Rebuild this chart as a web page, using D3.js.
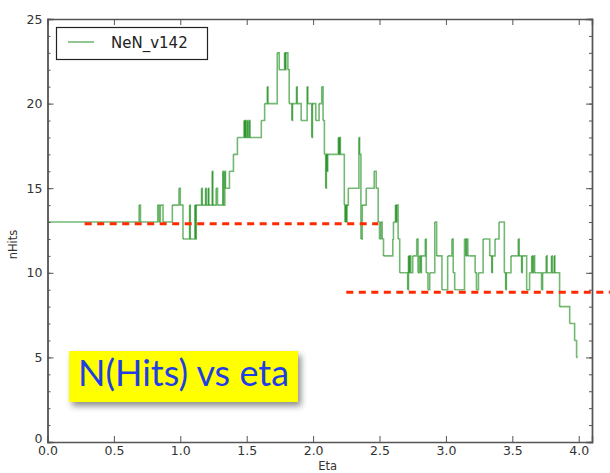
<!DOCTYPE html>
<html>
<head>
<meta charset="utf-8">
<script src="https://cdn.jsdelivr.net/npm/d3@7"></script>
<style>
  html, body { margin: 0; padding: 0; background: #fff; }
  svg { display: block; }
</style>
</head>
<body>
<div id="root"></div>
<script>
// data: step-wise nHits vs eta
const etaSteps = [
  0.00, 0.69, 0.70, 0.83, 0.84, 0.85, 0.87, 0.94, 0.99, 1.00,
  1.02, 1.07, 1.075, 1.11, 1.115, 1.12, 1.16, 1.165, 1.19, 1.195,
  1.21, 1.215, 1.24, 1.245, 1.27, 1.28, 1.32, 1.325, 1.335, 1.34,
  1.37, 1.40, 1.43, 1.48, 1.485, 1.49, 1.495, 1.505, 1.51, 1.52,
  1.525, 1.61, 1.635, 1.655, 1.66, 1.73, 1.745, 1.785, 1.79, 1.795,
  1.81, 1.82, 1.84, 1.845, 1.875, 1.88, 1.91, 1.955, 1.96, 1.99,
  1.995, 2.02, 2.045, 2.065, 2.075, 2.085, 2.095, 2.10, 2.105, 2.11,
  2.19, 2.195, 2.20, 2.205, 2.235, 2.24, 2.245, 2.25, 2.255, 2.265,
  2.345, 2.35, 2.36, 2.37, 2.40, 2.46, 2.475, 2.49, 2.50, 2.51,
  2.52, 2.53, 2.60, 2.605, 2.62, 2.625, 2.63, 2.64, 2.652, 2.712,
  2.718, 2.722, 2.728, 2.735, 2.75, 2.78, 2.79, 2.80, 2.81, 2.815,
  2.845, 2.852, 2.865, 2.878, 2.916, 2.93, 2.94, 2.97, 3.013, 3.045,
  3.055, 3.066, 3.08, 3.14, 3.15, 3.155, 3.165, 3.18, 3.22, 3.23,
  3.245, 3.255, 3.28, 3.33, 3.345, 3.35, 3.37, 3.40, 3.44, 3.45,
  3.455, 3.465, 3.49, 3.545, 3.552, 3.57, 3.575, 3.608, 3.63, 3.646,
  3.652, 3.66, 3.668, 3.683, 3.72, 3.728, 3.755, 3.762, 3.795, 3.80,
  3.815, 3.82, 3.856, 3.932, 3.969, 3.984, 3.992
];
const nHits = [
  13, 14, 13, 14, 13, 14, 13, 14, 15, 14,
  12, 14, 12, 14, 12, 14, 15, 14, 15, 14,
  15, 14, 16, 14, 15, 14, 16, 14, 16, 15,
  16, 17, 18, 19, 18, 19, 18, 19, 18, 19,
  18, 19, 20, 21, 20, 23, 22, 23, 22, 23,
  22, 20, 19, 20, 21, 20, 19, 21, 20, 18,
  20, 19, 20, 21, 19, 17, 15, 17, 16, 17,
  18, 17, 18, 17, 14, 13, 14, 13, 14, 15,
  18, 17, 12, 14, 15, 16, 15, 13, 12, 13,
  12, 11, 12, 13, 14, 13, 14, 12, 10, 9,
  11, 10, 11, 10, 11, 12, 10, 11, 10, 11,
  12, 10, 9, 10, 13, 11, 11, 9, 11, 12,
  10, 9, 9, 12, 11, 12, 11, 11, 10, 9,
  10, 10, 12, 11, 10, 11, 12, 13, 10, 9,
  10, 10, 11, 12, 11, 10, 11, 9, 10, 11,
  10, 11, 10, 10, 9, 10, 11, 10, 11, 10,
  11, 10, 8, 7, 6, 5, 5
];

const xTicks = [0.0, 0.5, 1.0, 1.5, 2.0, 2.5, 3.0, 3.5, 4.0];
const yTicks = [0, 5, 10, 15, 20, 25];
const yMinor = d3.range(0, 26, 1);

// red dashed guide levels
const guideStart = [0.28, 2.25];
const guideEnd = [2.49, 4.235];
const guideLevel = [12.9, 8.85];

const seriesName = "NeN_v142";
const noteText = "N(Hits) vs eta";

const W = 610, H = 473;
const mLeft = 47.5, mRight = 592, mTop = 19, mBottom = 442;

const svg = d3.select("#root").append("svg")
  .attr("width", W).attr("height", H)
  .attr("font-family", "'DejaVu Sans', sans-serif");

const x = d3.scaleLinear().domain([0, 4.1]).range([mLeft, mRight]);
const y = d3.scaleLinear().domain([0, 25]).range([mBottom, mTop]);

// drop shadow for the note box
const defs = svg.append("defs");
const f = defs.append("filter").attr("id", "shadow")
  .attr("x", "-10%").attr("y", "-20%").attr("width", "130%").attr("height", "160%");
f.append("feDropShadow").attr("dx", 3).attr("dy", 4).attr("stdDeviation", 3)
  .attr("flood-color", "#000").attr("flood-opacity", 0.45);

// green step line, one piece per step so overlaps darken
const pts = etaSteps.map((e, i) => [e, nHits[i]]);
const pairs = d3.pairs(pts);
const step = d3.line().x(d => x(d[0])).y(d => y(d[1])).curve(d3.curveStepAfter);
svg.append("g")
  .selectAll("path")
  .data(pairs)
  .join("path")
  .attr("d", d => step(d))
  .attr("fill", "none")
  .attr("stroke", "green")
  .attr("stroke-opacity", 0.55)
  .attr("stroke-width", 1.6);

// red dashed guides
svg.append("g")
  .selectAll("line")
  .data(guideLevel)
  .join("line")
  .attr("x1", (d, i) => x(guideStart[i]))
  .attr("x2", (d, i) => x(guideEnd[i]))
  .attr("y1", d => y(d)).attr("y2", d => y(d))
  .attr("stroke", "#ff2a00")
  .attr("stroke-width", 3)
  .attr("stroke-dasharray", "7,5.5");

// axes (ticks pointing inward, matplotlib style)
const axisColor = "#555";
const gx = svg.append("g").attr("transform", `translate(0,${mBottom})`)
  .call(d3.axisBottom(x).tickValues(xTicks).tickFormat(d3.format(".1f")).tickSize(-6).tickPadding(5));
const gxt = svg.append("g").attr("transform", `translate(0,${mTop})`)
  .call(d3.axisTop(x).tickValues(xTicks).tickFormat("").tickSize(-6));
const gyMinor = svg.append("g").attr("transform", `translate(${mLeft},0)`)
  .call(d3.axisLeft(y).tickValues(yMinor).tickFormat("").tickSize(-3));
const gy = svg.append("g").attr("transform", `translate(${mLeft},0)`)
  .call(d3.axisLeft(y).tickValues(yTicks).tickSize(-6).tickPadding(5));
const gyrMinor = svg.append("g").attr("transform", `translate(${mRight},0)`)
  .call(d3.axisRight(y).tickValues(yMinor).tickFormat("").tickSize(-3));
const gyr = svg.append("g").attr("transform", `translate(${mRight},0)`)
  .call(d3.axisRight(y).tickValues(yTicks).tickFormat("").tickSize(-6));

[gx, gxt, gy, gyMinor, gyr, gyrMinor].forEach(g => {
  g.select(".domain").attr("stroke", axisColor).attr("stroke-width", 1.4);
  g.selectAll(".tick line").attr("stroke", axisColor).attr("stroke-width", 1);
  g.selectAll(".tick text").attr("fill", "#333").attr("font-size", 12.5)
    .attr("font-family", "'DejaVu Sans', sans-serif");
});
gx.selectAll(".tick text").attr("dy", "0.6em");
// lift the "0" label a touch so it clears "0.0" below it
gy.selectAll(".tick text").filter(d => d === 0).attr("dy", "0.05em");

// axis titles
svg.append("text").attr("x", (mLeft + mRight) / 2 + 8).attr("y", 470)
  .attr("text-anchor", "middle").attr("font-size", 11.5).attr("fill", "#333").text("Eta");
svg.append("text")
  .attr("transform", `translate(17,${(mTop + mBottom) / 2 + 14}) rotate(-90)`)
  .attr("text-anchor", "middle").attr("font-size", 11.5).attr("fill", "#333").text("nHits");

// legend
const lg = svg.append("g");
lg.append("rect").attr("x", 56.5).attr("y", 27.5).attr("width", 151).attr("height", 32)
  .attr("fill", "#fff").attr("stroke", "#222").attr("stroke-width", 1.2);
lg.append("line").attr("x1", 68).attr("x2", 94).attr("y1", 42).attr("y2", 42)
  .attr("stroke", "green").attr("stroke-opacity", 0.55).attr("stroke-width", 1.6);
lg.append("text").attr("x", 111).attr("y", 48).attr("font-size", 15)
  .attr("fill", "#222").text(seriesName);

// yellow note
const note = svg.append("g");
note.append("rect").attr("x", 69).attr("y", 351).attr("width", 229).attr("height", 51)
  .attr("fill", "#ffff00").attr("filter", "url(#shadow)");
note.append("text").attr("x", 78).attr("y", 386)
  .attr("font-family", "Lato, 'Open Sans', sans-serif")
  .attr("font-size", 36).attr("fill", "#1f3fe6")
  .attr("textLength", 211).attr("lengthAdjust", "spacingAndGlyphs")
  .text(noteText);
</script>
</body>
</html>
